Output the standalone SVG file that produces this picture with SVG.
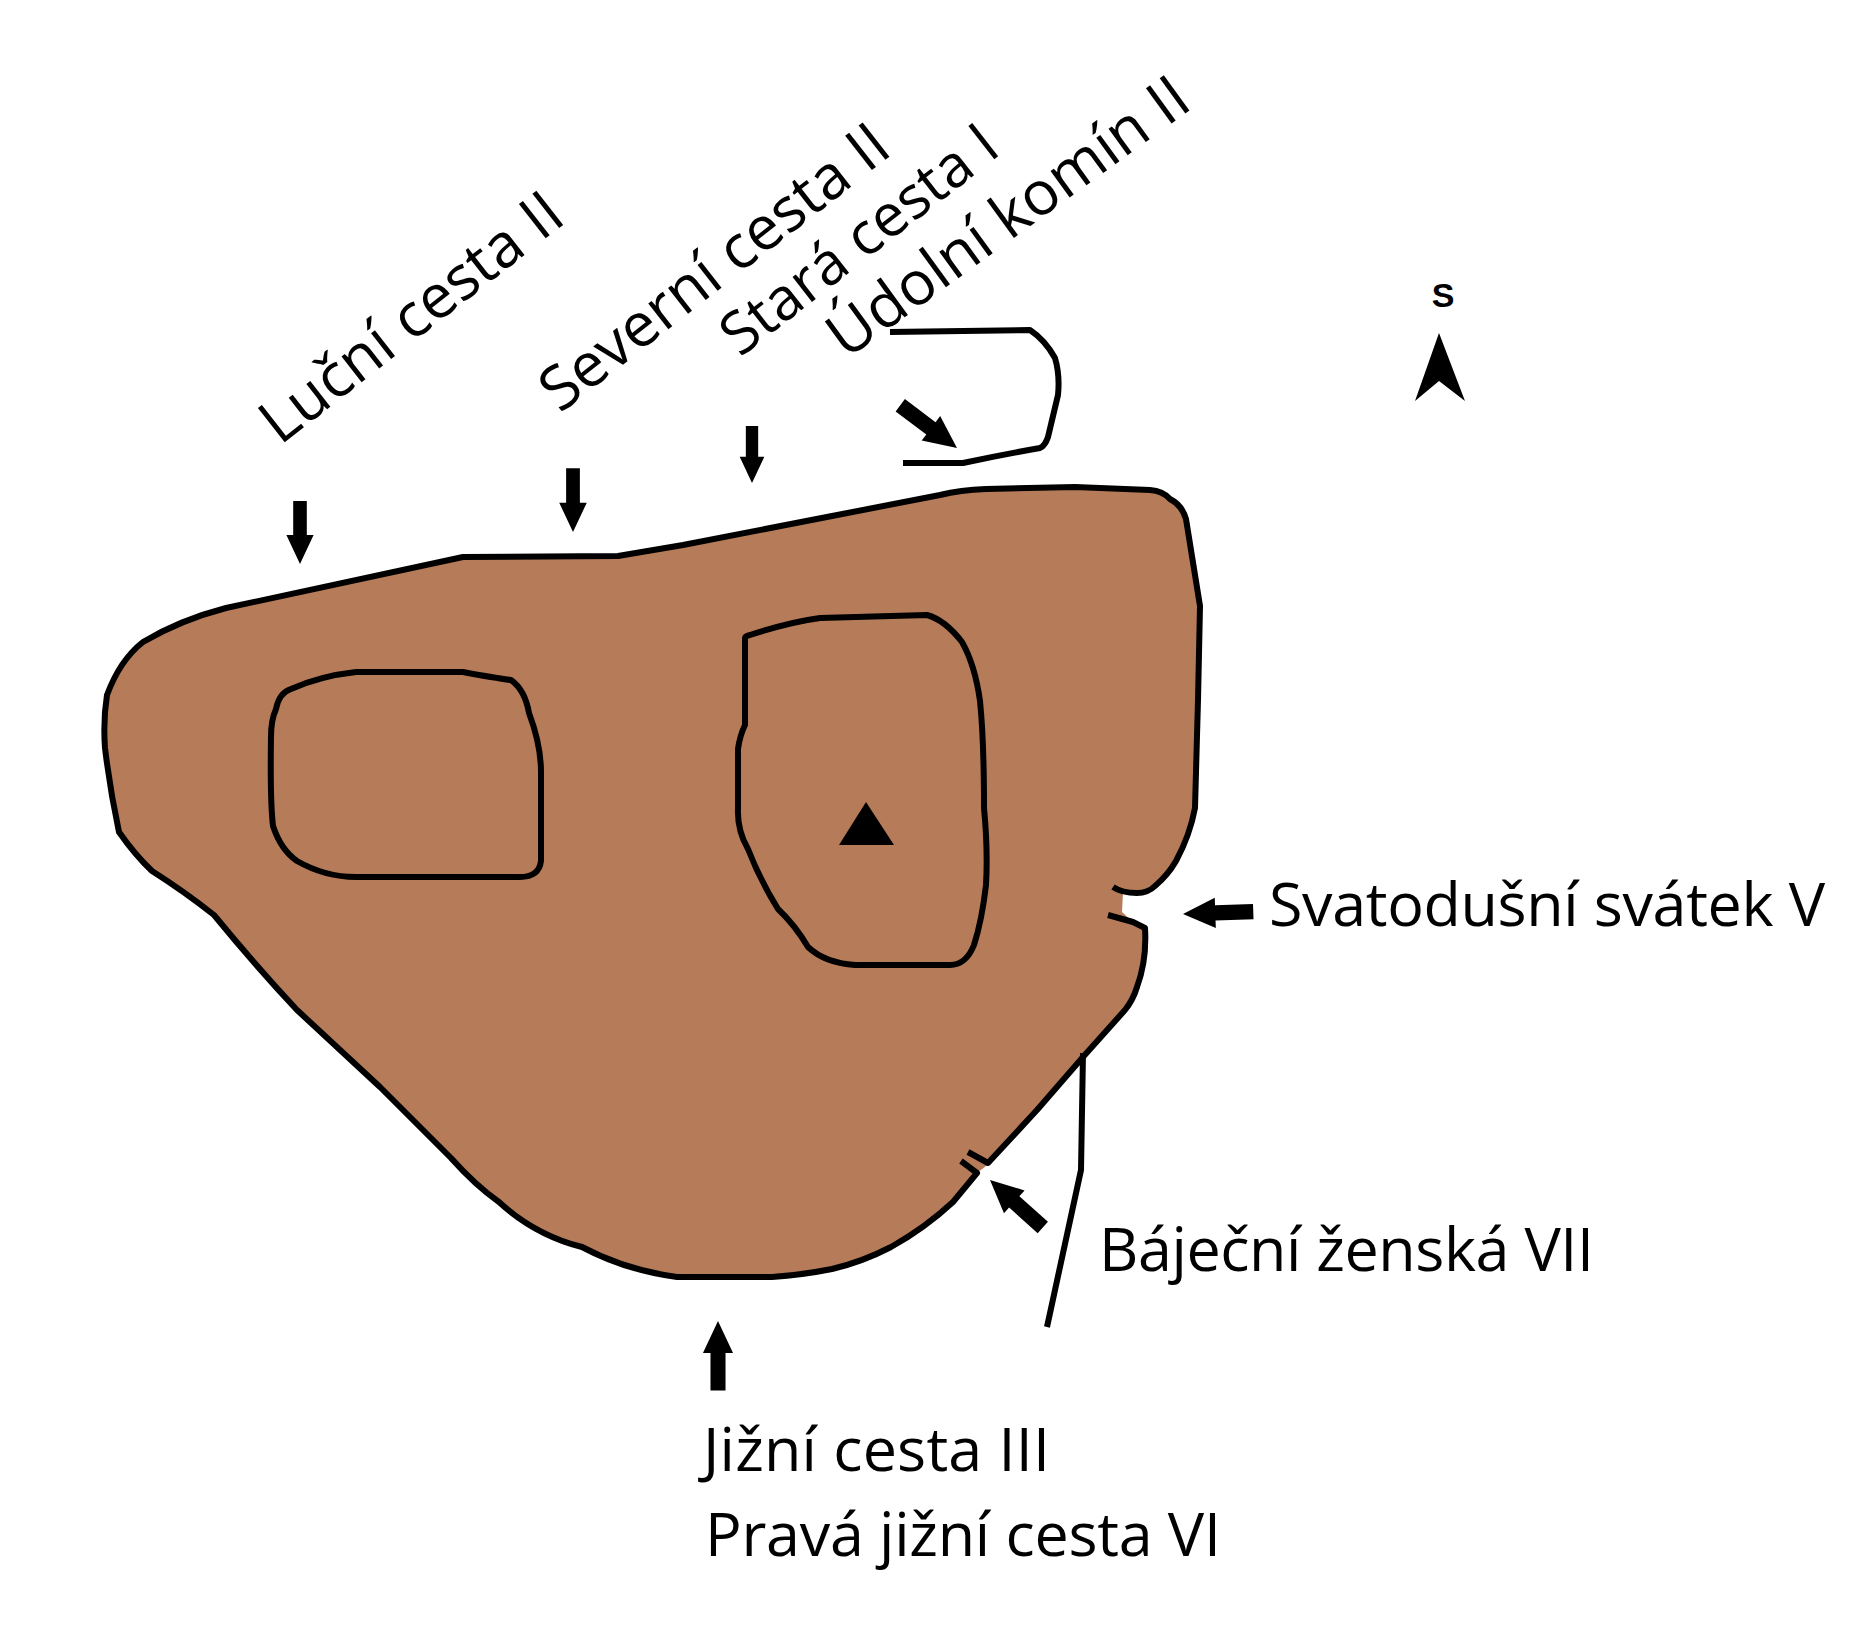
<svg xmlns="http://www.w3.org/2000/svg" width="1863" height="1634" viewBox="0 0 1863 1634">
<style>
.l{fill:none;stroke:#000;stroke-width:6;stroke-linejoin:round;stroke-linecap:butt}
.t{font-family:"Open Sans","Noto Sans",sans-serif;font-size:61px;fill:#000}
</style>
<defs>
<polygon id="arr" points="0,0 -34,-16 -34,-8 -74,-8 -74,8 -34,8 -34,16" fill="#000"/>
</defs>
<rect width="1863" height="1634" fill="#fff"/>
<g id="massif">
<path fill="#b67b58" d="M463 557L618 556L683 545L832 516L940 495Q960 490 986 489L1075 487L1150 490Q1163 491 1170 499Q1182 505 1186 519L1200 606L1198 700L1195 808Q1190 835 1176 861Q1168 875 1155 886Q1148 893 1137 893L1123 892L1122 912L1133 922L1145 928Q1147 960 1137 987Q1133 1000 1125 1010L1083 1057L1037 1110L990 1163L977 1173L953 1202Q925 1228 891 1247Q862 1262 832 1269Q802 1275 772 1277L677 1277Q625 1270 582 1247Q535 1235 499 1202Q475 1185 451 1158L380 1087Q340 1050 297 1010Q255 965 214 915Q185 892 152 871Q135 855 119 832Q110 790 105 748Q103 720 107 695Q120 660 143 642Q180 620 226 608Z"/>
<path class="l" d="M1113 887Q1122 893 1137 893Q1148 893 1155 886Q1168 875 1176 861Q1190 835 1195 808L1198 700L1200 606L1186 519Q1182 505 1170 499Q1163 491 1150 490L1075 487L986 489Q960 490 940 495L832 516L683 545L618 556L463 557L226 608Q180 620 143 642Q120 660 107 695Q103 720 105 748Q110 790 119 832Q135 855 152 871Q185 892 214 915Q255 965 297 1010Q340 1050 380 1087L451 1158Q475 1185 499 1202Q535 1235 582 1247Q625 1270 677 1277L772 1277Q802 1275 832 1269Q862 1262 891 1247Q925 1228 953 1202L977 1173L961 1161"/>
<path class="l" d="M1108 915L1133 922L1145 928Q1147 960 1137 987Q1133 1000 1125 1010L1083 1057L1037 1110L988 1163L968 1152"/>
<path class="l" d="M276 709Q279 693 291 689Q320 676 356 672L463 672Q495 678 511 680Q525 690 529 713Q541 745 541 772L541 861Q539 877 520 877L356 877Q325 877 297 861Q281 850 273 826Q270 800 271 737Q271 720 276 709Z"/>
<path class="l" d="M745 638Q745 636 750 635Q790 622 820 618L927 615Q945 620 962 642Q975 665 980 701Q984 740 984 808Q988 850 986 885Q982 920 974 945Q966 965 950 965L855 965Q825 963 808 947Q795 925 778 909Q760 880 748 849Q737 830 738 808L738 749Q740 735 745 725Z"/>
<polygon fill="#000" points="866,802 839,845 894,845"/>
</g>
<g id="connectors">
<path class="l" d="M890 332L1030 330Q1045 340 1055 358Q1060 375 1058 395L1048 437Q1045 446 1040 448Q1000 455 963 463L903 463"/>
<path class="l" d="M1083 1053L1081 1170L1047 1327"/>
<use href="#arr" transform="translate(300 564) rotate(90) scale(.85)"/>
<use href="#arr" transform="translate(573 532) rotate(90) scale(.86)"/>
<use href="#arr" transform="translate(752 483) rotate(90) scale(.77)"/>
<use href="#arr" transform="translate(957 448) rotate(37) scale(.96)"/>
<use href="#arr" transform="translate(1183 914) rotate(178) scale(.95)"/>
<use href="#arr" transform="translate(990 1180) rotate(222) scale(.96)"/>
<use href="#arr" transform="translate(718 1321) rotate(-90) scale(.94)"/>
</g>
<g id="labels">
<text class="t" transform="translate(280 446) rotate(-38)">Luční cesta II</text>
<text class="t" transform="translate(560 414) rotate(-38)">Severní cesta II</text>
<text class="t" style="font-size:59px" transform="translate(740 358) rotate(-38)">Stará cesta I</text>
<text class="t" transform="translate(846 360) rotate(-36)">Údolní komín II</text>
<text class="t" x="1269" y="926" textLength="556">Svatodušní svátek V</text>
<text class="t" x="1099" y="1271" textLength="495">Báječní ženská VII</text>
<text class="t" x="703" y="1471" textLength="347">Jižní cesta III</text>
<text class="t" x="705" y="1556" textLength="516">Pravá jižní cesta VI</text>
</g>
<g id="north">
<text x="1443" y="307" font-family="Liberation Sans,sans-serif" font-size="34" font-weight="bold" text-anchor="middle">S</text>
<polygon fill="#000" points="1439,333 1415,401 1439,381 1465,401"/>
</g>
</svg>
